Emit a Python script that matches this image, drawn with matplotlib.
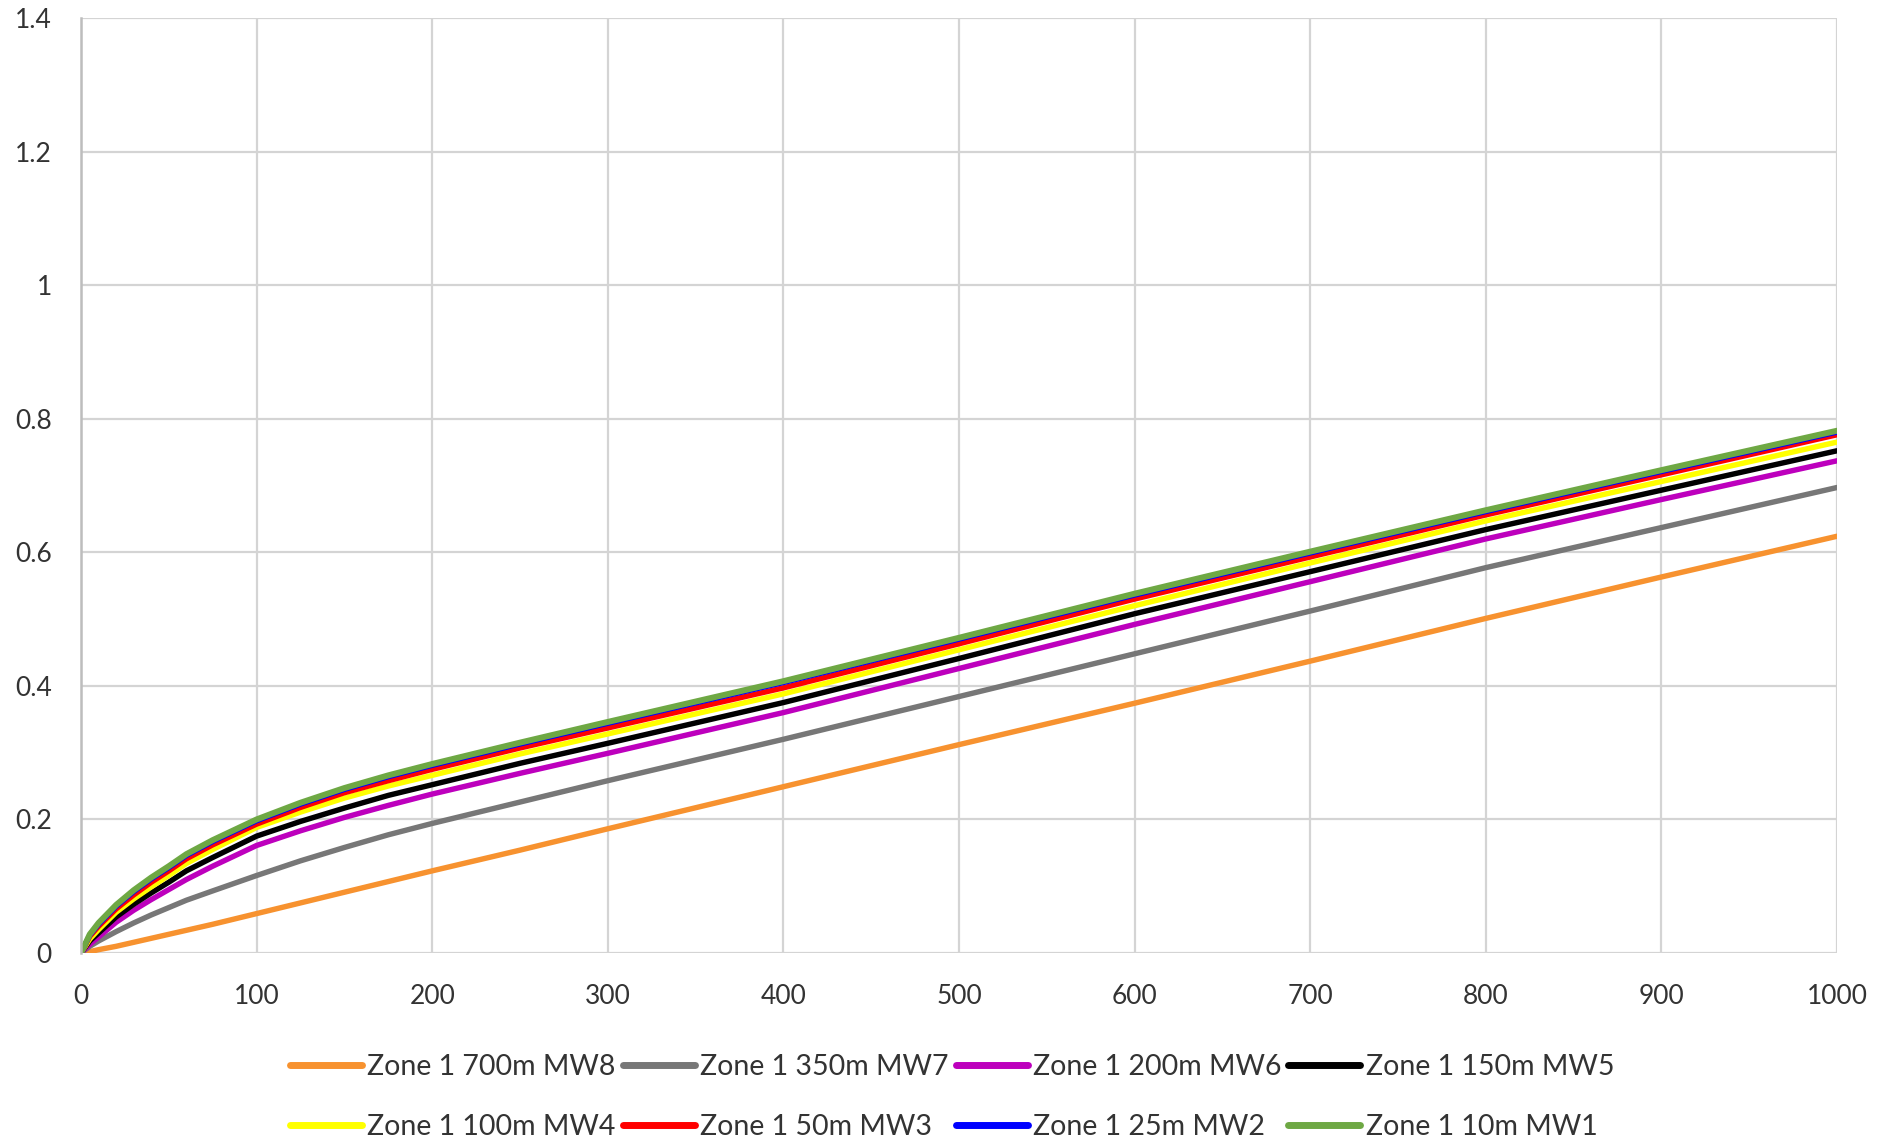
import matplotlib
matplotlib.use("Agg")
import matplotlib.pyplot as plt

plt.rcParams['font.family'] = ['Lato', 'DejaVu Sans']

# Distance axis samples
distance = [0, 5, 10, 20, 30, 40, 50, 60, 75, 100, 125, 150, 175, 200, 250, 300,
            400, 500, 600, 700, 800, 900, 1000]

mw8 = [0, 0.002, 0.005, 0.010, 0.016, 0.022, 0.028, 0.034, 0.043, 0.059, 0.075, 0.091,
       0.107, 0.123, 0.154, 0.186, 0.249, 0.312, 0.374, 0.437, 0.501, 0.563, 0.624]
mw7 = [0, 0.010, 0.018, 0.032, 0.045, 0.057, 0.068, 0.079, 0.093, 0.116, 0.138, 0.158,
       0.177, 0.194, 0.226, 0.258, 0.320, 0.384, 0.448, 0.512, 0.577, 0.637, 0.697]
mw6 = [0, 0.013, 0.024, 0.046, 0.064, 0.080, 0.095, 0.110, 0.130, 0.161, 0.183, 0.203,
       0.221, 0.238, 0.269, 0.299, 0.360, 0.426, 0.492, 0.556, 0.620, 0.679, 0.737]
mw5 = [0, 0.018, 0.030, 0.054, 0.073, 0.090, 0.106, 0.123, 0.143, 0.175, 0.197, 0.217,
       0.236, 0.252, 0.284, 0.314, 0.375, 0.441, 0.508, 0.571, 0.634, 0.693, 0.752]
mw4 = [0, 0.021, 0.035, 0.061, 0.081, 0.099, 0.116, 0.134, 0.155, 0.188, 0.211, 0.232,
       0.250, 0.266, 0.298, 0.328, 0.388, 0.454, 0.520, 0.584, 0.647, 0.706, 0.765]
mw3 = [0, 0.025, 0.040, 0.066, 0.087, 0.106, 0.123, 0.141, 0.162, 0.193, 0.218, 0.240,
       0.258, 0.275, 0.307, 0.337, 0.397, 0.463, 0.530, 0.593, 0.656, 0.716, 0.776]
mw2 = [0, 0.027, 0.043, 0.070, 0.092, 0.111, 0.128, 0.146, 0.167, 0.198, 0.223, 0.245,
       0.264, 0.281, 0.313, 0.344, 0.405, 0.470, 0.536, 0.599, 0.661, 0.721, 0.780]
mw1 = [0, 0.028, 0.045, 0.072, 0.094, 0.113, 0.130, 0.148, 0.169, 0.200, 0.225, 0.247,
       0.266, 0.283, 0.315, 0.346, 0.407, 0.472, 0.538, 0.601, 0.663, 0.723, 0.782]

labels = ["Zone 1 700m MW8", "Zone 1 350m MW7", "Zone 1 200m MW6", "Zone 1 150m MW5",
          "Zone 1 100m MW4", "Zone 1 50m MW3", "Zone 1 25m MW2", "Zone 1 10m MW1"]
series = [mw8, mw7, mw6, mw5, mw4, mw3, mw2, mw1]
colors = ["#F7922F", "#777777", "#BD00BD", "#000000", "#FFFF00", "#FF0000", "#0000FF", "#6EA844"]

x_ticks = [0, 100, 200, 300, 400, 500, 600, 700, 800, 900, 1000]
y_ticks = [0, 0.2, 0.4, 0.6, 0.8, 1.0, 1.2, 1.4]
y_tick_labels = ["0", "0.2", "0.4", "0.6", "0.8", "1", "1.2", "1.4"]

fig = plt.figure(figsize=(18.93, 11.41), dpi=100)
ax = fig.add_axes([81 / 1893, 1 - 953 / 1141, (1837 - 81) / 1893, (953 - 18) / 1141])

lines = []
for vals, lab, col in zip(series, labels, colors):
    lw = 4.3 if col == "#6EA844" else 3.9
    ln, = ax.plot(distance, vals, color=col, lw=lw, label=lab,
                  solid_capstyle='round', solid_joinstyle='round')
    lines.append(ln)

ax.set_xlim(0, 1000)
ax.set_ylim(0, 1.4)
ax.set_xticks(x_ticks)
ax.set_yticks(y_ticks)
ax.set_yticklabels(y_tick_labels)
ax.grid(True, color="#D4D4D4", lw=1.6)
ax.set_axisbelow(True)
for side in ["top", "right", "bottom"]:
    ax.spines[side].set_visible(False)
ax.spines["left"].set_color("#BDBDBD")
ax.spines["left"].set_linewidth(1.8)
ax.tick_params(axis='both', length=0, labelsize=19, colors="#333333")
ax.tick_params(axis='x', pad=22)
ax.tick_params(axis='y', pad=21)

# legend fills column-wise, so interleave to read across rows
ncol = 4
order = [r * ncol + c for c in range(ncol) for r in range(2)]
leg = fig.legend([lines[i] for i in order], [labels[i] for i in order],
                 loc='center', bbox_to_anchor=(0.503, 0.0385), ncol=ncol, frameon=False,
                 fontsize=20.5, handlelength=2.53, handletextpad=0.18, columnspacing=0.25,
                 labelspacing=1.18, borderpad=0)
for h in leg.get_lines():
    h.set_linewidth(5)
for t in leg.get_texts():
    t.set_color("#333333")

fig.savefig("out.png", dpi=100)
